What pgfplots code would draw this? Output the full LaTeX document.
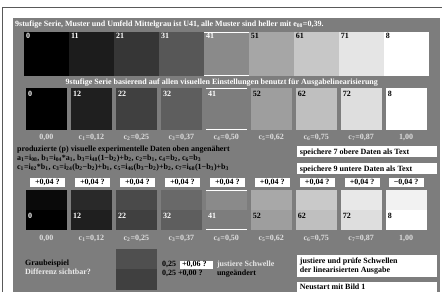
\documentclass[border=0pt]{standalone}
\usepackage{pgfplots}
\pgfplotsset{compat=1.18}
\usepackage{fontspec}
\setmainfont{Liberation Serif}
\newcommand{\rect}[5]{\addplot[fill=#5, draw=none, forget plot] coordinates {(#1,#2) (#3,#2) (#3,#4) (#1,#4)} -- cycle;}
\newcommand{\ft}{\bfseries\fontsize{8.0bp}{9bp}\selectfont}
\newcommand{\s}[1]{\textsubscript{#1}}
\newcommand{\clabels}[1]{%
\node[anchor=base, text=lab] at (axis cs:46.5,#1) {0,00};
\node[anchor=base, text=lab] at (axis cs:91.5,#1) {c\s{1}=0,12};
\node[anchor=base, text=lab] at (axis cs:136.5,#1) {c\s{2}=0,25};
\node[anchor=base, text=lab] at (axis cs:181.5,#1) {c\s{3}=0,37};
\node[anchor=base, text=lab] at (axis cs:226.5,#1) {c\s{4}=0,50};
\node[anchor=base, text=lab] at (axis cs:271.5,#1) {c\s{5}=0,62};
\node[anchor=base, text=lab] at (axis cs:316.5,#1) {c\s{6}=0,75};
\node[anchor=base, text=lab] at (axis cs:361.5,#1) {c\s{7}=0,87};
\node[anchor=base, text=lab] at (axis cs:406.5,#1) {1,00};}
\definecolor{bg}{gray}{0.49}
\definecolor{lab}{gray}{0.87}
\begin{document}
\begin{tikzpicture}[every node/.style={font=\ft, inner sep=0pt}]
\begin{axis}[width=442bp, height=292bp, scale only axis, xmin=0, xmax=442, ymin=0, ymax=292, y dir=reverse, hide axis, clip=false]
% background
\rect{0}{0}{442}{292}{white}
\addplot[draw=black!65, line width=0.8bp, forget plot] coordinates {(2.5,292) (2.5,7.5) (442,7.5)};
\rect{13}{18}{440}{292}{bg}
% row 1
\rect{24}{32}{69}{76}{black}
\rect{69}{32}{114}{76}{white!11!black}
\rect{114}{32}{159}{76}{white!21!black}
\rect{159}{32}{204}{76}{white!34!black}
\rect{204}{32}{249}{76}{white!54!black}
\rect{249}{32}{294}{76}{white!65!black}
\rect{294}{32}{339}{76}{white!78!black}
\rect{339}{32}{384}{76}{white!90!black}
\rect{384}{32}{429}{76}{white}
\rect{204}{32}{249}{33}{white}
\rect{204}{75}{249}{76}{white}
% row 2
\rect{26}{88}{67}{130}{black}
\rect{71}{88}{112}{130}{white!12!black}
\rect{116}{88}{157}{130}{white!25!black}
\rect{161}{88}{202}{130}{white!37!black}
\rect{206}{88}{247}{130}{bg}
\rect{251}{88}{292}{130}{white!62!black}
\rect{296}{88}{337}{130}{white!75!black}
\rect{341}{88}{382}{130}{white!87!black}
\rect{386}{88}{427}{130}{white}
\rect{206}{88}{247}{89}{white}
\rect{206}{129}{247}{130}{white}
% row 3 upper
\rect{26}{190}{67}{210}{white!4!black}
\rect{71}{190}{112}{210}{white!16!black}
\rect{116}{190}{157}{210}{white!29!black}
\rect{161}{190}{202}{210}{white!41!black}
\rect{206}{190}{247}{210}{white!54!black}
\rect{251}{190}{292}{210}{white!66!black}
\rect{296}{190}{337}{210}{white!79!black}
\rect{341}{190}{382}{210}{white!91!black}
\rect{386}{190}{427}{210}{white!95!black}
% row 3 lower
\rect{26}{210}{67}{230}{black}
\rect{71}{210}{112}{230}{white!12!black}
\rect{116}{210}{157}{230}{white!25!black}
\rect{161}{210}{202}{230}{white!37!black}
\rect{206}{210}{247}{230}{bg}
\rect{251}{210}{292}{230}{white!62!black}
\rect{296}{210}{337}{230}{white!75!black}
\rect{341}{210}{382}{230}{white!87!black}
\rect{386}{210}{427}{230}{white}
\rect{206}{190}{247}{191}{white}
\rect{206}{229}{247}{230}{white}
% +0,04 boxes
\rect{30}{178}{65}{187}{white}
\rect{75}{178}{110}{187}{white}
\rect{120}{178}{155}{187}{white}
\rect{165}{178}{200}{187}{white}
\rect{210}{178}{245}{187}{white}
\rect{255}{178}{290}{187}{white}
\rect{300}{178}{335}{187}{white}
\rect{345}{178}{380}{187}{white}
\rect{389}{178}{424}{187}{white}
% white boxes right
\rect{297}{146}{437}{157}{white}
\rect{297}{163}{437}{174}{white}
\rect{297}{255}{437}{277}{white}
\rect{297}{282}{437}{292}{white}
% example patch
\rect{116}{249}{157}{269}{white!31!black}
\rect{116}{269}{157}{290}{white!25!black}
\rect{180}{261}{213}{269}{white}
% texts
\node[anchor=base west, text=white] at (axis cs:15,27) {9stufige Serie, Muster und Umfeld Mittelgrau ist U41, alle Muster sind heller mit e\s{08}=0,39.};
\node[anchor=base west, text=white] at (axis cs:26,38.5) {0};
\node[anchor=base west, text=white] at (axis cs:71,38.5) {11};
\node[anchor=base west, text=white] at (axis cs:116,38.5) {21};
\node[anchor=base west, text=white] at (axis cs:161,38.5) {31};
\node[anchor=base west, text=white] at (axis cs:206,38.5) {41};
\node[anchor=base west, text=black] at (axis cs:251,38.5) {51};
\node[anchor=base west, text=black] at (axis cs:296,38.5) {61};
\node[anchor=base west, text=black] at (axis cs:341,38.5) {71};
\node[anchor=base west, text=black] at (axis cs:386,38.5) {8};
\node[anchor=base, text=white] at (axis cs:222,85) {9stufige Serie basierend auf allen visuellen Einstellungen benutzt für Ausgabelinearisierung};
\node[anchor=base west, text=white] at (axis cs:28,97) {0};
\node[anchor=base west, text=white] at (axis cs:73,97) {12};
\node[anchor=base west, text=white] at (axis cs:118,97) {22};
\node[anchor=base west, text=white] at (axis cs:163,97) {32};
\node[anchor=base west, text=white] at (axis cs:208,97) {41};
\node[anchor=base west, text=black] at (axis cs:253,97) {52};
\node[anchor=base west, text=black] at (axis cs:298,97) {62};
\node[anchor=base west, text=black] at (axis cs:343,97) {72};
\node[anchor=base west, text=black] at (axis cs:388,97) {8};
\clabels{140}
\clabels{241}
\node[anchor=base west] at (axis cs:17,152) {produzierte (p) visuelle experimentelle Daten oben angenähert};
\node[anchor=base west] at (axis cs:17,161) {a\s{1}=i\s{08}, b\s{1}=i\s{04}*a\s{1}, b\s{3}=i\s{48}(1−b\s{2})+b\s{2}, c\s{2}=b\s{1}, c\s{4}=b\s{2}, c\s{6}=b\s{3}};
\node[anchor=base west] at (axis cs:17,170) {c\s{1}=i\s{02}*b\s{1}, c\s{3}=i\s{24}(b\s{2}−b\s{2})+b\s{1}, c\s{5}=i\s{46}(b\s{3}−b\s{2})+b\s{2}, c\s{7}=i\s{68}(1−b\s{3})+b\s{3}};
\node[anchor=base west] at (axis cs:300,154.5) {speichere 7 obere Daten als Text};
\node[anchor=base west] at (axis cs:300,171.5) {speichere 9 untere Daten als Text};
\node[anchor=base] at (axis cs:47.5,185) {+0,04 ?};
\node[anchor=base] at (axis cs:92.5,185) {+0,04 ?};
\node[anchor=base] at (axis cs:137.5,185) {+0,04 ?};
\node[anchor=base] at (axis cs:182.5,185) {+0,04 ?};
\node[anchor=base] at (axis cs:227.5,185) {+0,04 ?};
\node[anchor=base] at (axis cs:272.5,185) {+0,04 ?};
\node[anchor=base] at (axis cs:317.5,185) {+0,04 ?};
\node[anchor=base] at (axis cs:362.5,185) {+0,04 ?};
\node[anchor=base] at (axis cs:406.5,185) {−0,04 ?};
\node[anchor=base west, text=white] at (axis cs:28,219) {0};
\node[anchor=base west, text=white] at (axis cs:73,219) {12};
\node[anchor=base west, text=white] at (axis cs:118,219) {22};
\node[anchor=base west, text=white] at (axis cs:163,219) {32};
\node[anchor=base west, text=white] at (axis cs:208,219) {41};
\node[anchor=base west, text=black] at (axis cs:253,219) {52};
\node[anchor=base west, text=black] at (axis cs:298,219) {62};
\node[anchor=base west, text=black] at (axis cs:343,219) {72};
\node[anchor=base west, text=black] at (axis cs:388,219) {8};
\node[anchor=base west] at (axis cs:25,266) {Graubeispiel};
\node[anchor=base west, text=white!92!black] at (axis cs:25,274.5) {Differenz sichtbar?};
\node[anchor=base west] at (axis cs:162,267) {0,25};
\node[anchor=base west] at (axis cs:182,267) {+0,06 ?};
\node[anchor=base west, text=white!90!black] at (axis cs:217,267) {justiere Schwelle};
\node[anchor=base west] at (axis cs:162,275.5) {0,25 +0,00 ?};
\node[anchor=base west] at (axis cs:217,275.5) {ungeändert};
\node[anchor=base west] at (axis cs:300,264) {justiere und prüfe Schwellen};
\node[anchor=base west] at (axis cs:300,273) {der linearisierten Ausgabe};
\node[anchor=base west] at (axis cs:300,290) {Neustart mit Bild 1};
\end{axis}
\end{tikzpicture}
\end{document}
